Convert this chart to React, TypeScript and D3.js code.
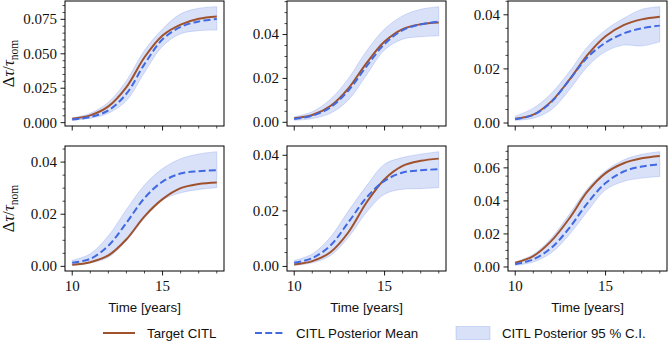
import React from "react";
import * as d3 from "d3";

// ---- data ----
const years = [10, 11, 12, 13, 14, 15, 16, 17, 18];

const targetP1 = [0.0029, 0.0053, 0.0118, 0.0258, 0.0475, 0.0633, 0.0712, 0.0754, 0.0771];
const meanP1 = [0.0023, 0.0041, 0.0089, 0.021, 0.0425, 0.0605, 0.0695, 0.0735, 0.0752];
const upperP1 = [0.0034, 0.0068, 0.0148, 0.0305, 0.0525, 0.068, 0.079, 0.083, 0.0842];
const lowerP1 = [0.0017, 0.0032, 0.0068, 0.016, 0.0365, 0.0555, 0.0645, 0.0668, 0.0672];

const targetP2 = [0.0018, 0.0033, 0.0074, 0.0155, 0.027, 0.0368, 0.0425, 0.0447, 0.0455];
const meanP2 = [0.0015, 0.003, 0.0068, 0.0145, 0.0255, 0.0357, 0.042, 0.0446, 0.0459];
const upperP2 = [0.0025, 0.0048, 0.0105, 0.02, 0.0325, 0.0425, 0.0485, 0.0515, 0.0527];
const lowerP2 = [0.0009, 0.0017, 0.0041, 0.0102, 0.0216, 0.033, 0.0379, 0.039, 0.0394];

const targetP3 = [0.0016, 0.0031, 0.008, 0.016, 0.0252, 0.0321, 0.0362, 0.0383, 0.0393];
const meanP3 = [0.0014, 0.003, 0.0078, 0.016, 0.0243, 0.0297, 0.0331, 0.035, 0.036];
const upperP3 = [0.0025, 0.0055, 0.011, 0.019, 0.0282, 0.0344, 0.0387, 0.042, 0.043];
const lowerP3 = [0.001, 0.0018, 0.0049, 0.0123, 0.0209, 0.0264, 0.0288, 0.0285, 0.03];

const targetP4 = [0.0006, 0.0016, 0.0042, 0.0104, 0.0192, 0.0258, 0.03, 0.0316, 0.0322];
const meanP4 = [0.0014, 0.0029, 0.0079, 0.0167, 0.0262, 0.0325, 0.0356, 0.0365, 0.0369];
const upperP4 = [0.0023, 0.0048, 0.0117, 0.0218, 0.0312, 0.0375, 0.0413, 0.0431, 0.044];
const lowerP4 = [0.0004, 0.0013, 0.0035, 0.0098, 0.0186, 0.0255, 0.0282, 0.0295, 0.0302];

const targetP5 = [0.0007, 0.0019, 0.0051, 0.0123, 0.023, 0.0314, 0.0362, 0.038, 0.0388];
const meanP5 = [0.0013, 0.003, 0.0075, 0.0159, 0.0248, 0.0308, 0.0338, 0.0346, 0.035];
const upperP5 = [0.0021, 0.0045, 0.0105, 0.02, 0.029, 0.0368, 0.0392, 0.0404, 0.0413];
const lowerP5 = [0.0004, 0.0013, 0.0039, 0.0105, 0.0195, 0.026, 0.0278, 0.028, 0.0284];

const targetP6 = [0.0026, 0.0066, 0.0158, 0.0295, 0.0457, 0.0568, 0.0628, 0.0658, 0.0672];
const meanP6 = [0.0016, 0.0046, 0.0116, 0.0237, 0.0387, 0.0508, 0.0578, 0.0608, 0.0622];
const upperP6 = [0.003, 0.0076, 0.0175, 0.032, 0.0475, 0.0582, 0.0648, 0.0682, 0.0698];
const lowerP6 = [0.001, 0.003, 0.0086, 0.0197, 0.0337, 0.0467, 0.0518, 0.0538, 0.0548];

const yTicksP1 = [0, 0.025, 0.05, 0.075];
const yTicks002 = [0, 0.02, 0.04];
const yTicksP6 = [0, 0.02, 0.04, 0.06];
const xMajorTicks = [10, 15];
const xLabel = "Time [years]";
const legendLabels = ["Target CITL", "CITL Posterior Mean", "CITL Posterior 95 % C.I."];

const panels = [
  { target: targetP1, mean: meanP1, upper: upperP1, lower: lowerP1, yTicks: yTicksP1, fmt: ".3f" },
  { target: targetP2, mean: meanP2, upper: upperP2, lower: lowerP2, yTicks: yTicks002, fmt: ".2f" },
  { target: targetP3, mean: meanP3, upper: upperP3, lower: lowerP3, yTicks: yTicks002, fmt: ".2f" },
  { target: targetP4, mean: meanP4, upper: upperP4, lower: lowerP4, yTicks: yTicks002, fmt: ".2f" },
  { target: targetP5, mean: meanP5, upper: upperP5, lower: lowerP5, yTicks: yTicks002, fmt: ".2f" },
  { target: targetP6, mean: meanP6, upper: upperP6, lower: lowerP6, yTicks: yTicksP6, fmt: ".2f" },
];

// ---- layout ----
const W = 669;
const H = 342;
const colLeft = [65, 287, 508];
const rowTop = [1, 146];
const PW = 159;
const PH = 125;
const RED = "#a0522d";
const BLUE = "#4169e1";
const serifStyle = { fontFamily: "Liberation Serif, Times New Roman, DejaVu Serif, serif" };
const sansStyle = { fontFamily: "Liberation Sans, Arial, Helvetica, sans-serif" };

function Panel({ p, col, row }: any) {
  const left = colLeft[col];
  const top = rowTop[row];
  const xMin = d3.min(years)!, xMax = d3.max(years)!;
  const xm = (xMax - xMin) * 0.05;
  const x = d3.scaleLinear().domain([xMin - xm, xMax + xm]).range([left, left + PW]);
  const yLo = d3.min(p.lower as number[])!;
  const yHi = d3.max(p.upper as number[])!;
  const ym = (yHi - yLo) * 0.05;
  const y = d3.scaleLinear().domain([yLo - ym, yHi + ym]).range([top + PH, top]);
  const curve = d3.curveCatmullRom.alpha(0.5);
  const line = d3.line<number>().x((_, i) => x(years[i])).y((d) => y(d)).curve(curve);
  const area = d3
    .area<number>()
    .x((_, i) => x(years[i]))
    .y0((_, i) => y(p.lower[i]))
    .y1((_, i) => y(p.upper[i]))
    .curve(curve);
  const [d0, d1] = y.domain();
  const yMinor = d3.range(Math.ceil(d0 / 0.005) * 0.005, d1, 0.005).filter(
    (v) => !p.yTicks.some((t: number) => Math.abs(t - v) < 1e-9)
  );
  const xMinor = d3.range(10, 19, 1).filter((v) => !xMajorTicks.includes(v));
  const fmt = d3.format(p.fmt);
  const bottom = top + PH;
  return (
    <g>
      <path d={area(p.upper)!} fill={BLUE} fillOpacity={0.2} stroke={BLUE} strokeOpacity={0.2} strokeWidth={1} />
      <path d={line(p.target)!} fill="none" stroke={RED} strokeWidth={2} />
      <path d={line(p.mean)!} fill="none" stroke={BLUE} strokeWidth={2} strokeDasharray="7,3.2" />
      <rect x={left} y={top} width={PW} height={PH} fill="none" stroke="#000" strokeWidth={1} />
      {p.yTicks.map((t: number) => (
        <g key={"y" + t}>
          <line x1={left - 4.5} x2={left} y1={y(t)} y2={y(t)} stroke="#000" strokeWidth={0.9} />
          <text x={left - 8} y={y(t)} dy="0.33em" textAnchor="end" style={serifStyle} fontSize={15} fill="#111">
            {fmt(t)}
          </text>
        </g>
      ))}
      {yMinor.map((t) => (
        <line key={"ym" + t} x1={left - 2.5} x2={left} y1={y(t)} y2={y(t)} stroke="#000" strokeWidth={0.7} />
      ))}
      {xMajorTicks.map((t) => (
        <g key={"x" + t}>
          <line x1={x(t)} x2={x(t)} y1={bottom} y2={bottom + 4.5} stroke="#000" strokeWidth={0.9} />
          {row === 1 && (
            <text x={x(t)} y={bottom + 20} textAnchor="middle" style={serifStyle} fontSize={15} fill="#111">
              {t}
            </text>
          )}
        </g>
      ))}
      {xMinor.map((t) => (
        <line key={"xm" + t} x1={x(t)} x2={x(t)} y1={bottom} y2={bottom + 2.5} stroke="#000" strokeWidth={0.7} />
      ))}
      {row === 1 && (
        <text x={left + PW / 2} y={312} textAnchor="middle" style={sansStyle} fontSize={13.3} fill="#111">
          {xLabel}
        </text>
      )}
      {col === 0 && (
        <text
          transform={`translate(14,${top + PH / 2}) rotate(-90)`}
          textAnchor="middle"
          style={serifStyle}
          fontSize={16.5}
          fill="#111"
        >
          <tspan>Δ</tspan>
          <tspan fontStyle="italic">τ</tspan>
          <tspan>/</tspan>
          <tspan fontStyle="italic">τ</tspan>
          <tspan fontSize={11.5} dy="3.5">nom</tspan>
        </text>
      )}
    </g>
  );
}

export default function App() {
  const ly = 333;
  return (
    <svg
      width={W}
      height={H}
      viewBox={`0 0 ${W} ${H}`}
      style={{ position: "absolute", left: 0, top: 0, display: "block", background: "#fff" }}
    >
      <rect width={W} height={H} fill="#fff" />
      {panels.map((p, i) => (
        <Panel key={i} p={p} col={i % 3} row={Math.floor(i / 3)} />
      ))}
      <g>
        <line x1={103} x2={135} y1={ly} y2={ly} stroke={RED} strokeWidth={2} />
        <text x={147} y={ly} dy="0.35em" style={sansStyle} fontSize={13.3} fill="#111">
          {legendLabels[0]}
        </text>
        <line x1={255} x2={284} y1={ly} y2={ly} stroke={BLUE} strokeWidth={2} strokeDasharray="7,3.2" />
        <text x={296} y={ly} dy="0.35em" style={sansStyle} fontSize={13.3} fill="#111">
          {legendLabels[1]}
        </text>
        <rect x={456} y={ly - 6.5} width={34} height={13} fill={BLUE} fillOpacity={0.2} stroke={BLUE} strokeOpacity={0.2} />
        <text x={502} y={ly} dy="0.35em" style={sansStyle} fontSize={13.3} fill="#111">
          {legendLabels[2]}
        </text>
      </g>
    </svg>
  );
}
